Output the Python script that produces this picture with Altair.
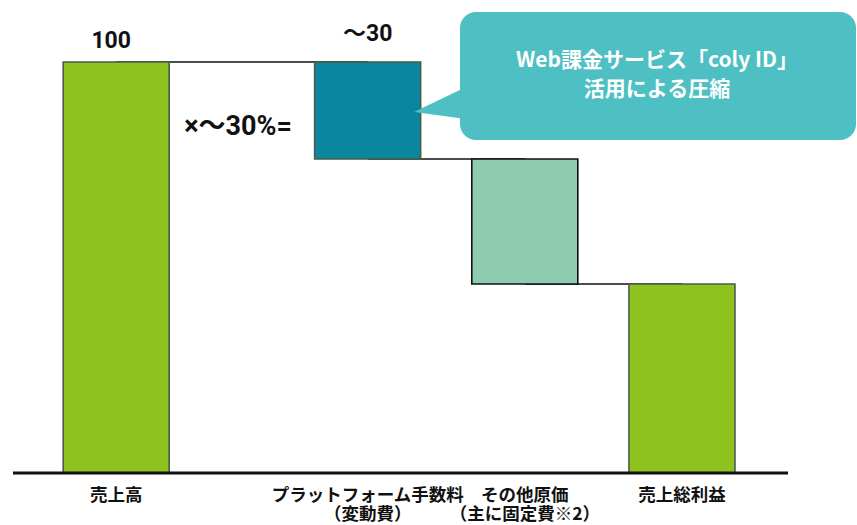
import altair as alt
import pandas as pd

# ---- data ----
categories = ["売上高", "プラットフォーム手数料", "その他原価", "売上総利益"]
sublabels = ["", "（変動費）", "（主に固定費※2）", ""]
values = [100, 23.6, 30.4, 46]
kinds = ["total", "decrease", "decrease", "total"]
value_labels = ["100", "～30", "", ""]
slots = [0, 1.6, 2.6, 3.6]          # category slot order along x (wider gap after first bar)
bar_colors = ["#8DC21F", "#0A879E", "#8ECCB1", "#8DC21F"]
bar_strokes = ["#4B5B4B", "#4B5B4B", "#111111", "#4B5B4B"]

callout_lines = ["Web課金サービス「coly ID」", "活用による圧縮"]
ratio_text = "×～30%="

# ---- waterfall table ----
rows = []
level = 0.0
for c, s, v, k, lab, sl in zip(categories, sublabels, values, kinds, value_labels, slots):
    if k == "total":
        start, end = 0.0, float(v)
    else:
        start, end = level, level - v
    level = end
    rows.append(dict(cat=c, sub=s, start=start, end=end, vlabel=lab, slot=sl))
df = pd.DataFrame(rows)

conn = pd.DataFrame(
    [dict(slot=slots[i], slot2=slots[i + 1], lvl=rows[i]["end"]) for i in range(len(rows) - 1)]
)

xs = alt.Scale(domain=[-0.7075, 4.682], nice=False, zero=False)
ys = alt.Scale(domain=[-12.65, 115.08], nice=False, zero=False)
FONT = "Noto Sans CJK JP"
NUMFONT = "Roboto, 'Noto Sans CJK JP'"

X = lambda f: alt.X(f, scale=xs, axis=None)
Y = lambda f: alt.Y(f, scale=ys, axis=None)

base = alt.Chart(df)

connectors = alt.Chart(conn).mark_rule(color="#111111", strokeWidth=1.6).encode(
    x=X("slot:Q"), x2="slot2:Q", y=Y("lvl:Q"),
)

bars = base.mark_bar(size=106, strokeWidth=1.6).encode(
    x=X("slot:Q"),
    y=Y("end:Q"),
    y2="start:Q",
    color=alt.Color("cat:N", scale=alt.Scale(domain=categories, range=bar_colors), legend=None),
    stroke=alt.Stroke("cat:N", scale=alt.Scale(domain=categories, range=bar_strokes), legend=None),
)

baseline = alt.Chart(df).transform_filter(alt.datum.cat == categories[0]).transform_calculate(
    zero="0"
).mark_rule(color="#111111", strokeWidth=3).encode(
    x=alt.value(13), x2=alt.value(788), y=Y("zero:Q")
)

lab_total = base.transform_filter(alt.datum.cat == categories[0]).mark_text(
    font=NUMFONT, fontSize=23, fontWeight="bold", baseline="alphabetic", dy=-14, dx=-5, color="#111111"
).encode(x=X("slot:Q"), y=Y("end:Q"), text="vlabel:N")

lab_fee = base.transform_filter(alt.datum.cat == categories[1]).mark_text(
    font=NUMFONT, fontSize=23, fontWeight="bold", baseline="alphabetic", dy=-21, color="#111111"
).encode(x=X("slot:Q"), y=Y("start:Q"), text="vlabel:N")

ratio = alt.Chart(pd.DataFrame({"t": [ratio_text]})).mark_text(
    font=NUMFONT, fontSize=27, fontWeight="bold", baseline="alphabetic", align="center", color="#111111"
).encode(x=alt.value(238), y=alt.value(135), text="t:N")

cat1 = base.mark_text(font=FONT, fontSize=17.5, fontWeight="bold", baseline="middle", color="#111111").encode(
    x=X("slot:Q"), y=alt.value(496), text="cat:N"
)
cat2 = base.mark_text(font=FONT, fontSize=17.5, fontWeight="bold", baseline="middle", color="#111111").encode(
    x=X("slot:Q"), y=alt.value(515), text="sub:N"
)

# ---- callout ----
cdf = pd.DataFrame({"line": callout_lines, "row": [0, 1]})
box = alt.Chart(cdf).transform_filter(alt.datum.row == 0).mark_rect(
    color="#4EBFC2", cornerRadius=16
).encode(x=alt.value(460), x2=alt.value(856), y=alt.value(12), y2=alt.value(140))

pointer = alt.Chart(cdf).transform_filter(alt.datum.row == 0).mark_point(
    shape="M -1 0.346 L 1 -0.615 L 1 0.615 Z", filled=True, color="#4EBFC2", opacity=1, size=2704, strokeWidth=0
).encode(x=alt.value(440), y=alt.value(103))

ctext = alt.Chart(cdf).mark_text(
    font=FONT, fontSize=21, fontWeight="bold", color="white", baseline="middle", align="center"
).encode(
    x=alt.value(657),
    y=alt.Y("row:Q", scale=alt.Scale(domain=[0, 1], range=[61, 90], nice=False, zero=False), axis=None),
    text="line:N",
)

chart = alt.layer(
    connectors, bars, baseline, lab_total, lab_fee, ratio, cat1, cat2, pointer, box, ctext
).properties(
    width=857, height=525, padding=0, autosize=alt.AutoSizeParams(type="none")
).resolve_scale(y="independent").configure_view(stroke=None)

chart.save("out.html", embed_options={"renderer": "svg", "actions": False})
